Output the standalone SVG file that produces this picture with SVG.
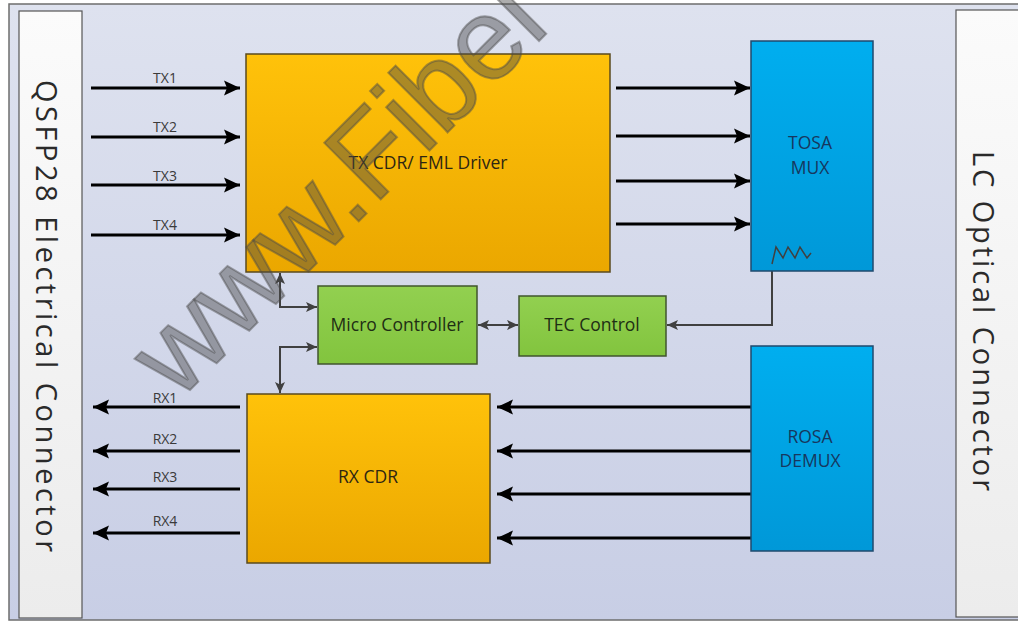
<svg xmlns="http://www.w3.org/2000/svg" width="1018" height="621" viewBox="0 0 1018 621">
  <defs>
    <linearGradient id="bg" x1="0" y1="0" x2="0" y2="1">
      <stop offset="0" stop-color="#DEE2EF"/>
      <stop offset="1" stop-color="#C8CEE5"/>
    </linearGradient>
    <linearGradient id="panel" x1="0" y1="0" x2="0" y2="1">
      <stop offset="0" stop-color="#FBFBFB"/>
      <stop offset="1" stop-color="#ECECEC"/>
    </linearGradient>
    <linearGradient id="yellow" x1="0" y1="0" x2="0" y2="1">
      <stop offset="0" stop-color="#FFC20A"/>
      <stop offset="1" stop-color="#EBA700"/>
    </linearGradient>
    <linearGradient id="blue" x1="0" y1="0" x2="0" y2="1">
      <stop offset="0" stop-color="#00AEEF"/>
      <stop offset="1" stop-color="#0098D8"/>
    </linearGradient>
    <linearGradient id="green" x1="0" y1="0" x2="0" y2="1">
      <stop offset="0" stop-color="#92D050"/>
      <stop offset="1" stop-color="#82C43E"/>
    </linearGradient>
    <marker id="bigArrow" markerUnits="userSpaceOnUse" markerWidth="17" markerHeight="17" viewBox="0 0 17 17" refX="16" refY="8.5" orient="auto">
      <path d="M0,1 L16,8.5 L0,16 L3,8.5 Z" fill="#000"/>
    </marker>
    <marker id="ctlEnd" markerUnits="userSpaceOnUse" markerWidth="12" markerHeight="12" viewBox="0 0 12 12" refX="11" refY="6" orient="auto">
      <path d="M0,1 L11,6 L0,11 L2.5,6 Z" fill="#404040"/>
    </marker>
    <marker id="ctlStart" markerUnits="userSpaceOnUse" markerWidth="12" markerHeight="12" viewBox="0 0 12 12" refX="1" refY="6" orient="auto">
      <path d="M12,1 L1,6 L12,11 L9.5,6 Z" fill="#404040"/>
    </marker>
  </defs>
  <style>
    .sig { stroke: #000; stroke-width: 3; fill: none; marker-end: url(#bigArrow); }
    .ctl { stroke: #404040; stroke-width: 2; fill: none; }
    .lbl { font-family: "Open Sans", "Noto Sans", sans-serif; font-size: 14px; fill: #3a3a3a; text-anchor: middle; }
    .box { font-family: "Open Sans", "Noto Sans", sans-serif; font-size: 17.5px; text-anchor: middle; }
    .conn { font-family: "Open Sans", "Noto Sans", sans-serif; font-size: 29px; fill: #2a2a2a; text-anchor: middle; }
  </style>

  <rect x="0" y="0" width="1018" height="621" fill="#FFFFFF"/>
  <rect x="9" y="4" width="1015" height="616" fill="url(#bg)" stroke="#6E6E6E" stroke-width="1.5"/>

  <g id="qsfp28-connector">
    <rect x="19" y="11" width="63" height="607" fill="url(#panel)" stroke="#555" stroke-width="1.2"/>
    <text class="conn" transform="translate(36,316) rotate(90)" textLength="472" lengthAdjust="spacing">QSFP28 Electrical Connector</text>
  </g>

  <g id="lc-connector">
    <rect x="956" y="10" width="80" height="607" fill="url(#panel)" stroke="#555" stroke-width="1.2"/>
    <text class="conn" transform="translate(973,321) rotate(90)" textLength="340" lengthAdjust="spacing">LC Optical Connector</text>
  </g>

  <g id="connectors">
    <line class="sig" x1="91" y1="88" x2="240" y2="88"/>
    <line class="sig" x1="91" y1="137" x2="240" y2="137"/>
    <line class="sig" x1="91" y1="185" x2="240" y2="185"/>
    <line class="sig" x1="91" y1="235" x2="240" y2="235"/>
    <text class="lbl" x="165" y="83">TX1</text>
    <text class="lbl" x="165" y="132">TX2</text>
    <text class="lbl" x="165" y="181">TX3</text>
    <text class="lbl" x="165" y="230">TX4</text>

    <line class="sig" x1="616" y1="88" x2="750" y2="88"/>
    <line class="sig" x1="616" y1="136" x2="750" y2="136"/>
    <line class="sig" x1="616" y1="181" x2="750" y2="181"/>
    <line class="sig" x1="616" y1="224" x2="750" y2="224"/>

    <line class="sig" x1="751" y1="407" x2="497" y2="407"/>
    <line class="sig" x1="751" y1="451" x2="497" y2="451"/>
    <line class="sig" x1="751" y1="494" x2="497" y2="494"/>
    <line class="sig" x1="751" y1="538" x2="497" y2="538"/>

    <line class="sig" x1="240" y1="407" x2="93" y2="407"/>
    <line class="sig" x1="240" y1="451" x2="93" y2="451"/>
    <line class="sig" x1="240" y1="489" x2="93" y2="489"/>
    <line class="sig" x1="240" y1="533" x2="93" y2="533"/>
    <text class="lbl" x="165" y="403">RX1</text>
    <text class="lbl" x="165" y="444">RX2</text>
    <text class="lbl" x="165" y="482">RX3</text>
    <text class="lbl" x="165" y="526">RX4</text>

    <path class="ctl" d="M280,273 L280,307 L317,307" marker-start="url(#ctlStart)" marker-end="url(#ctlEnd)"/>
    <path class="ctl" d="M280,393 L280,347 L317,347" marker-start="url(#ctlStart)" marker-end="url(#ctlEnd)"/>
    <path class="ctl" d="M478,325 L518,325" marker-start="url(#ctlStart)" marker-end="url(#ctlEnd)"/>
    <path class="ctl" d="M772,262 L772,325 L667,325" marker-end="url(#ctlEnd)"/>
  </g>

  <g id="tx-cdr">
    <rect x="246" y="54" width="364" height="218" fill="url(#yellow)" stroke="#5A4A1E" stroke-width="1.5"/>
    <text class="box" x="428" y="169" fill="#2E2612">TX CDR/ EML Driver</text>
  </g>

  <g id="tosa-mux">
    <rect x="751" y="41" width="122" height="230" fill="url(#blue)" stroke="#1F4A6E" stroke-width="1.5"/>
    <text class="box" x="810" y="149" fill="#17375E">TOSA</text>
    <text class="box" x="810" y="174" fill="#17375E">MUX</text>
    <path d="M772,264 L776,247 L783,258 L788,247 L795,258 L800,247 L807,258 L811,253" fill="none" stroke="#404040" stroke-width="1.5"/>
  </g>

  <g id="micro-controller">
    <rect x="318" y="286" width="159" height="78" fill="url(#green)" stroke="#40552E" stroke-width="1.5"/>
    <text class="box" x="397" y="331" fill="#1E2E14">Micro Controller</text>
  </g>

  <g id="tec-control">
    <rect x="519" y="296" width="147" height="60" fill="url(#green)" stroke="#40552E" stroke-width="1.5"/>
    <text class="box" x="592" y="331" fill="#1E2E14">TEC Control</text>
  </g>

  <g id="rx-cdr">
    <rect x="247" y="394" width="243" height="169" fill="url(#yellow)" stroke="#5A4A1E" stroke-width="1.5"/>
    <text class="box" x="368" y="483" fill="#2E2612">RX CDR</text>
  </g>

  <g id="rosa-demux">
    <rect x="751" y="346" width="122" height="205" fill="url(#blue)" stroke="#1F4A6E" stroke-width="1.5"/>
    <text class="box" x="810" y="443" fill="#17375E">ROSA</text>
    <text class="box" x="810" y="467" fill="#17375E">DEMUX</text>
  </g>

  <text transform="translate(178,402) rotate(-45)" font-family="Liberation Sans, Arial, sans-serif" font-size="116" fill="#4A4A4A" fill-opacity="0.45" stroke="#4A4A4A" stroke-opacity="0.45" stroke-width="2">www.Fibel</text>
</svg>
